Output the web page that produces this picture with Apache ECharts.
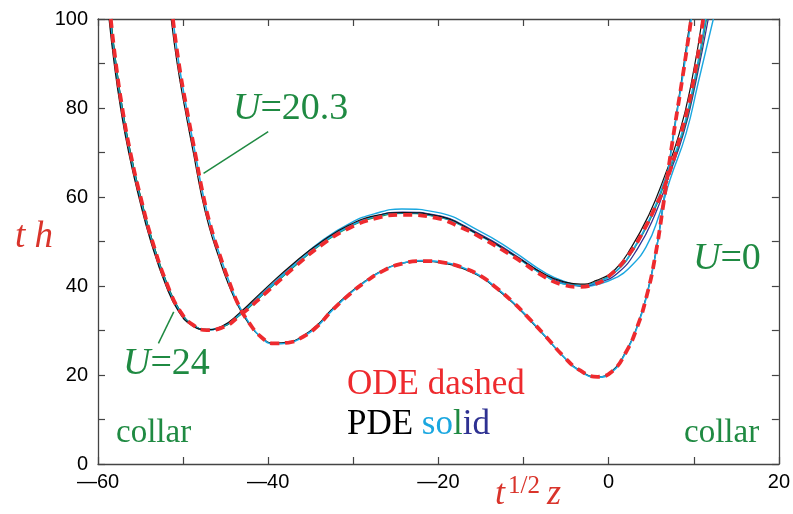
<!DOCTYPE html>
<html>
<head>
<meta charset="utf-8">
<script src="https://cdn.jsdelivr.net/npm/echarts@6/dist/echarts.min.js"></script>
<style>
  html, body { margin: 0; padding: 0; background: #fff; }
  #main { width: 793px; height: 514px; }
</style>
</head>
<body>
<div id="main"></div>
<script>
// axis ranges / ticks
var xTicks = [-60, -40, -20, 0, 20];
var yTicks = [0, 20, 40, 60, 80, 100];

// U=24 family (the wide one)
var odeA = [[-58.5,100],[-57.9,90],[-57.15,80],[-56.2,70],[-55.0,60],[-53.6,50],[-51.8,40],[-50.3,34.2],[-48.8,31.2],[-47.2,30.1],[-45.5,30.6],[-43.3,33.4],[-40.2,38.6],[-36.7,44.6],[-33.6,49.4],[-30.4,53.1],[-27.4,55.2],[-24.2,56.0],[-20.3,55.3],[-17.5,53.3],[-15.1,51.0],[-11.2,46.6],[-7.3,41.8],[-5.2,40.2],[-3.6,39.8],[-1.8,40.3],[0.2,42.5],[2.5,47.4],[4.2,52.8],[5.4,57.4],[6.6,62.5],[8.5,74.3],[9.9,85.5],[11.1,100]];
var blackA = [[-58.7,100],[-58.1,90],[-57.35,80],[-56.4,70],[-55.2,60],[-53.8,50],[-52.0,40],[-50.5,34.2],[-49.0,31.2],[-47.3,30.2],[-45.5,30.9],[-43.4,33.9],[-40.4,39.3],[-36.9,45.3],[-33.7,50.0],[-30.5,53.7],[-27.4,55.8],[-24.2,56.5],[-20.3,55.8],[-15.1,51.4],[-11.2,47.0],[-7.3,42.4],[-5.0,40.8],[-3.3,40.4],[-1.5,41.2],[0.7,43.6],[2.7,48.8],[4.8,56.3],[6.4,63.8],[8.3,74.3],[9.7,85.5],[11.0,100]];
var cyanA = [[-58.6,100],[-58.0,90],[-57.25,80],[-56.3,70],[-55.1,60],[-53.7,50],[-51.9,40],[-50.4,34.2],[-48.9,31.2],[-47.2,30.2],[-45.5,30.8],[-43.3,33.7],[-40.2,39.0],[-36.7,45.0],[-33.6,49.8],[-30.4,53.5],[-27.4,55.6],[-24.2,56.4],[-20.3,55.7],[-15.1,51.3],[-11.2,46.9],[-7.3,42.1],[-5.1,40.4],[-3.4,40.1],[-1.5,40.8],[0.8,43.2],[3.0,48.6],[5.1,56.3],[6.6,63.8],[8.6,74.3],[10.0,85.5],[11.4,100]];
var greenA = [[-58.5,100],[-57.9,90],[-57.15,80],[-56.2,70],[-55.0,60],[-53.6,50],[-51.8,40],[-50.3,34.2],[-48.8,31.2],[-47.2,30.2],[-45.5,30.7],[-43.3,33.5],[-40.2,38.8],[-36.7,44.8],[-33.6,49.6],[-30.4,53.3],[-27.4,55.4],[-24.2,56.3],[-20.3,55.6],[-15.1,51.3],[-11.2,46.9],[-7.3,42.1],[-5.1,40.4],[-3.4,40.1],[-1.5,40.9],[0.8,43.2],[3.0,48.4],[5.2,56.3],[6.7,63.8],[8.7,74.3],[10.1,85.5],[11.5,100]];
var navyA = [[-58.5,100],[-57.9,90],[-57.15,80],[-56.2,70],[-55.0,60],[-53.6,50],[-51.8,40],[-50.3,34.2],[-48.8,31.2],[-47.2,30.2],[-45.5,30.7],[-43.3,33.6],[-40.2,38.9],[-36.7,44.9],[-33.6,49.8],[-30.4,53.5],[-27.4,55.7],[-24.2,56.6],[-20.3,55.9],[-15.1,51.6],[-11.2,47.2],[-7.3,42.3],[-5.0,40.5],[-3.3,40.0],[-1.3,40.7],[1.0,42.8],[3.4,48.4],[5.5,56.3],[6.9,63.8],[8.8,74.3],[10.2,85.5],[11.7,100]];
var cyanA2 = [[-58.5,100],[-57.9,90],[-57.15,80],[-56.2,70],[-55.0,60],[-53.6,50],[-51.8,40],[-50.3,34.2],[-48.8,31.2],[-47.2,30.2],[-45.5,30.8],[-43.3,33.8],[-40.2,39.3],[-36.7,45.4],[-33.6,50.3],[-30.4,54.1],[-27.4,56.3],[-24.3,57.3],[-20.3,56.6],[-15.1,52.3],[-11.2,47.8],[-7.3,42.8],[-4.5,40.6],[-3.0,40.0],[-1.0,40.5],[1.0,42.0],[2.3,43.8],[4.4,48.8],[6.0,56.3],[7.2,63.8],[9.1,74.3],[10.5,85.5],[12.3,100]];

// U=20.3 family (the narrow one)
var odeB = [[-51.2,100],[-50.5,90],[-49.6,80],[-48.6,70],[-47.6,60],[-46.7,53],[-45.7,47],[-44.6,41],[-43.5,35.8],[-42.2,31.6],[-40.8,28.5],[-39.4,27.1],[-37.6,27.3],[-35.9,28.6],[-34.2,31.0],[-32.6,34.3],[-30.4,38.2],[-28.6,40.9],[-26.5,43.4],[-24.5,44.9],[-21.8,45.6],[-19.2,45.2],[-17.1,44.1],[-15.0,42.2],[-13.2,39.6],[-11.2,36.3],[-9.3,32.6],[-7.3,28.5],[-5.4,24.4],[-3.5,21.2],[-1.3,19.6],[0.4,20.8],[2.0,25.0],[3.3,30.5],[4.5,38.0],[5.5,47.0],[6.4,58.0],[7.5,72.5],[8.65,86.5],[9.7,100]];
var cyanB = [[-51.2,100],[-50.5,90],[-49.6,80],[-48.6,70],[-47.6,60],[-46.7,53],[-45.7,47],[-44.6,41],[-43.5,35.8],[-42.2,31.6],[-40.8,28.4],[-39.4,27.0],[-37.6,27.2],[-35.9,28.6],[-34.2,31.0],[-32.6,34.3],[-30.4,38.3],[-28.6,41.0],[-26.5,43.5],[-24.5,45.0],[-21.8,45.7],[-19.2,45.3],[-17.1,44.1],[-15.0,42.2],[-13.2,39.6],[-11.2,36.3],[-9.3,32.6],[-7.3,28.4],[-5.4,24.3],[-3.5,21.0],[-1.3,19.5],[0.4,20.7],[2.0,25.0],[3.3,30.5],[4.5,38.0],[5.5,47.0],[6.4,58.0],[7.5,72.5],[8.65,86.5],[9.7,100]];
var blackB = [[-51.4,100],[-50.7,90],[-49.8,80],[-48.8,70],[-47.8,60],[-46.9,53],[-45.9,47],[-44.8,41],[-43.6,35.8],[-42.3,31.6],[-40.9,28.6],[-39.4,27.2],[-37.6,27.4],[-35.9,28.8],[-34.2,31.3],[-32.6,34.6],[-30.4,38.5],[-28.6,41.1],[-26.5,43.6],[-24.5,45.0],[-21.8,45.6],[-19.2,45.1],[-17.1,43.9],[-15.0,42.0],[-13.2,39.4],[-11.2,36.1],[-9.3,32.4],[-7.3,28.3],[-5.4,24.3],[-3.5,21.1],[-1.3,19.6],[0.4,20.9],[2.0,25.2],[3.3,30.7],[4.5,38.2],[5.5,47.2],[6.4,58.2],[7.5,72.7],[8.6,86.7],[9.6,100]];

// pointer lines for the labels (data coords)
var pointer203 = [[-40.0, 74.7], [-47.6, 65.3]];
var pointer24 = [[-51.1, 34.2], [-52.9, 27.1]];

var RED = '#ee2a2e';
var CYAN = '#1aa7e0';
var GREEN = '#1f8a42';
var NAVY = '#2e3192';
var SERIF = '"Liberation Serif", "DejaVu Serif", serif';

function tickFmt(v) {
    if (v % 20 !== 0) return '';
    return v < 0 ? '\u2014' + Math.abs(v) : String(v);
}

function solid(name, data, color, width) {
    return {
        name: name, type: 'line', data: data, smooth: 0.5,
        showSymbol: false, symbol: 'none', clip: true,
        lineStyle: { color: color, width: width }
    };
}

var myChart = echarts.init(document.getElementById('main'));

var axisLine = { show: true, onZero: false, lineStyle: { color: '#444', width: 1.3 } };
var axisTick = { show: true, inside: true, length: 7, lineStyle: { color: '#444', width: 1.2 } };

var dashedA = solid('ODE A', odeA, RED, 3.8);
dashedA.lineStyle.type = [9, 6];
var dashedB = solid('ODE B', odeB, RED, 3.8);
dashedB.lineStyle.type = [9, 6];

var lineB = solid('PDE B cyan', cyanB, CYAN, 1.6);
lineB.markLine = {
    silent: true, symbol: 'none', animation: false,
    label: { show: false },
    lineStyle: { color: GREEN, type: 'solid', width: 1.5 },
    data: [
        [{ coord: pointer203[0] }, { coord: pointer203[1] }],
        [{ coord: pointer24[0] }, { coord: pointer24[1] }]
    ]
};

myChart.setOption({
    animation: false,
    backgroundColor: '#fff',
    grid: { left: 98, right: 14, top: 19, bottom: 50 },
    xAxis: [{
        type: 'value', min: -60, max: 20, interval: 10,
        axisLine: axisLine, axisTick: axisTick, splitLine: { show: false },
        axisLabel: {
            formatter: tickFmt, margin: 8, color: '#000',
            fontSize: 20, fontFamily: '"Liberation Sans", Arial, sans-serif'
        }
    }, {
        type: 'value', min: -60, max: 20, interval: 10, position: 'top',
        axisLine: axisLine, axisTick: axisTick, splitLine: { show: false },
        axisLabel: { show: false }
    }],
    yAxis: [{
        type: 'value', min: 0, max: 100, interval: 10,
        axisLine: axisLine, axisTick: axisTick, splitLine: { show: false },
        axisLabel: {
            formatter: tickFmt, margin: 10, color: '#000',
            fontSize: 20, fontFamily: '"Liberation Sans", Arial, sans-serif'
        }
    }, {
        type: 'value', min: 0, max: 100, interval: 10, position: 'right',
        axisLine: axisLine, axisTick: axisTick, splitLine: { show: false },
        axisLabel: { show: false }
    }],
    series: [
        solid('PDE A cyan outer', cyanA2, CYAN, 1.4),
        solid('PDE A navy', navyA, NAVY, 1.3),
        solid('PDE A green', greenA, GREEN, 1.3),
        solid('PDE A cyan', cyanA, CYAN, 1.6),
        solid('PDE A black', blackA, '#111', 1.2),
        solid('PDE B black', blackB, '#111', 1.2),
        lineB,
        dashedA,
        dashedB
    ],
    graphic: [
        { type: 'text', left: 15, top: 219, style: { text: '{i|t h}', rich: { i: { font: 'italic 37px ' + SERIF, fill: '#d9342b' } } } },
        { type: 'text', left: 233, top: 90, style: { text: '{i|U}{n|=20.3}', rich: { i: { font: 'italic 38px ' + SERIF, fill: GREEN }, n: { font: '38px ' + SERIF, fill: GREEN } } } },
        { type: 'text', left: 123, top: 345, style: { text: '{i|U}{n|=24}', rich: { i: { font: 'italic 38px ' + SERIF, fill: GREEN }, n: { font: '38px ' + SERIF, fill: GREEN } } } },
        { type: 'text', left: 693, top: 240, style: { text: '{i|U}{n|=0}', rich: { i: { font: 'italic 38px ' + SERIF, fill: GREEN }, n: { font: '38px ' + SERIF, fill: GREEN } } } },
        { type: 'text', left: 347, top: 367, style: { text: 'ODE dashed', font: '35px ' + SERIF, fill: RED } },
        { type: 'text', left: 347, top: 407, style: { text: '{k|PDE }{c|so}{g|l}{n|id}', rich: {
            k: { font: '35px ' + SERIF, fill: '#000' },
            c: { font: '35px ' + SERIF, fill: CYAN },
            g: { font: '35px ' + SERIF, fill: GREEN },
            n: { font: '35px ' + SERIF, fill: NAVY }
        } } },
        { type: 'text', left: 116, top: 417, style: { text: 'collar', font: '33px ' + SERIF, fill: GREEN } },
        { type: 'text', left: 684, top: 417, style: { text: 'collar', font: '33px ' + SERIF, fill: GREEN } },
        { type: 'text', left: 495, top: 477, style: { text: 't', font: 'italic 36px ' + SERIF, fill: '#d9342b' } },
        { type: 'text', left: 508, top: 474, style: { text: '1/2', font: '25px ' + SERIF, fill: '#d9342b' } },
        { type: 'text', left: 547, top: 477, style: { text: 'z', font: 'italic 36px ' + SERIF, fill: '#d9342b' } }
    ]
});
</script>
</body>
</html>
